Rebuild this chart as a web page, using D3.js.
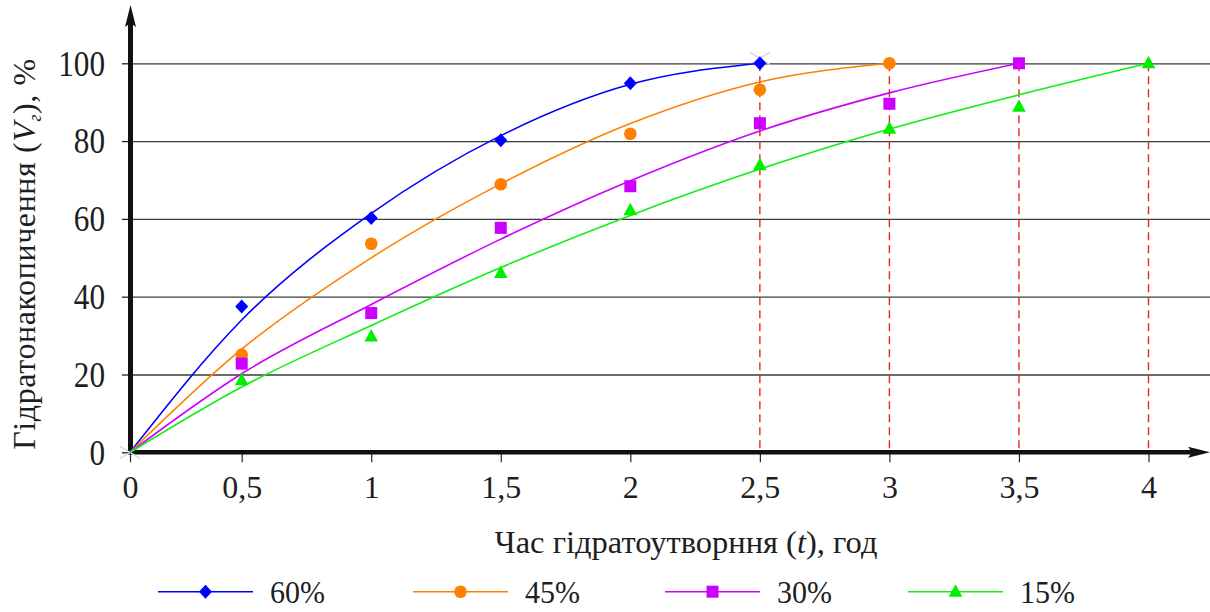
<!DOCTYPE html>
<html><head><meta charset="utf-8">
<script src="https://cdn.jsdelivr.net/npm/d3@7"></script>
<style>
html,body{margin:0;padding:0;background:#fff;}
svg{display:block;}
svg text{font-family:"Liberation Serif","Times New Roman",Times,serif !important;}
</style></head>
<body><svg id="c" width="1210" height="612"></svg>
<script>
// ---- data ----
const xTicks = [0, 0.5, 1, 1.5, 2, 2.5, 3, 3.5, 4];
const xTickLabels = ["0", "0,5", "1", "1,5", "2", "2,5", "3", "3,5", "4"];
const yTicks = [0, 20, 40, 60, 80, 100];
const yTickLabels = ["0", "20", "40", "60", "80", "100"];
const seriesNames = ["60%", "45%", "30%", "15%"];

const t60 = [0.5, 1, 1.5, 2, 2.5];
const v60 = [37.5, 60.2, 80.2, 94.9, 100];
const t45 = [0.5, 1, 1.5, 2, 2.5, 3];
const v45 = [25.1, 53.6, 68.9, 81.9, 93.2, 100];
const t30 = [0.5, 1, 1.5, 2, 2.5, 3, 3.5];
const v30 = [22.8, 35.8, 57.7, 68.4, 84.6, 89.6, 100];
const t15 = [0.5, 1, 1.5, 2, 2.5, 3, 3.5, 4];
const v15 = [18.5, 29.8, 46.1, 62.2, 73.8, 83.2, 88.8, 100];

// trend curves
const tr60t = [0, 0.5, 1, 1.5, 2, 2.5];
const tr60 = [0, 34, 61.4, 81.4, 94.6, 100];
const tr45t = [0, 0.5, 1, 1.5, 2, 2.5, 3];
const tr45 = [0, 26.5, 50, 69, 84.5, 95.2, 100];
const tr30t = [0, 0.5, 1, 1.5, 2, 2.5, 3, 3.5];
const tr30 = [0, 20.2, 38, 54.8, 69.8, 82.6, 92.4, 100];
const tr15t = [0, 0.5, 1, 1.5, 2, 2.5, 3, 3.5, 4];
const tr15 = [0, 16.8, 32.6, 47.5, 60.9, 72.8, 83.1, 91.9, 100];

const dropT = [2.5, 3, 3.5, 4];
const dropV = [100, 100, 100, 100];

const ghostT = [0, 2.5];
const ghostV = [0, 100];

// ---- drawing ----
const FONT = '"Liberation Serif","Times New Roman",Times,serif';
const svg = d3.select("#c");
const x = d3.scaleLinear().domain([0, 0.5, 4]).range([130, 241.7, 1148.5]);
const y = d3.scaleLinear().domain([0, 100]).range([452.3, 63.3]);
const txt = "#1e1e1e";

const colors = ["#0000ff", "#ff8000", "#cc00ff", "#00ee00"];
const lineColors = ["#0000ff", "#ff8000", "#cc00ff", "#11ee11"];
const shapes = ["diamond", "circle", "square", "triangle"];

function marker(g, shape, cx, cy, col) {
  if (shape === "diamond") {
    g.append("path").attr("d", `M${cx},${cy-7}L${cx+6.5},${cy}L${cx},${cy+7}L${cx-6.5},${cy}Z`).attr("fill", col);
  } else if (shape === "circle") {
    g.append("circle").attr("cx", cx).attr("cy", cy).attr("r", 6.3).attr("fill", col);
  } else if (shape === "square") {
    g.append("rect").attr("x", cx-6).attr("y", cy-6).attr("width", 12).attr("height", 12).attr("fill", col);
  } else {
    g.append("path").attr("d", `M${cx},${cy-7.5}L${cx+6.8},${cy+5}L${cx-6.8},${cy+5}Z`).attr("fill", col);
  }
}

// gridlines
const grid = svg.append("g").attr("transform", "translate(130,0)")
  .call(d3.axisLeft(y).tickValues(yTicks.slice(1)).tickSize(-1080).tickSizeOuter(0).tickFormat(""));
grid.select(".domain").remove();
grid.selectAll("line").attr("stroke", "#3a3a3a").attr("stroke-width", 1.3);

// y tick marks (left) and labels
const yAx = svg.append("g").attr("transform", "translate(130,0)")
  .call(d3.axisLeft(y).tickValues(yTicks).tickSize(8).tickSizeOuter(0).tickPadding(17)
    .tickFormat((d, i) => yTickLabels[i]));
yAx.attr("font-family", null).attr("font-size", null);
yAx.select(".domain").remove();
yAx.selectAll("line").attr("stroke", "#222").attr("stroke-width", 1.3);
yAx.selectAll("text").style("font-size", "35px").attr("fill", txt)
  .style("font-family", FONT).attr("dy", "0.335em")
  .attr("textLength", (d, i) => yTickLabels[i].length * 15.6)
  .attr("lengthAdjust", "spacingAndGlyphs");

// x tick marks and labels
const xAx = svg.append("g").attr("transform", "translate(0,452.3)")
  .call(d3.axisBottom(x).tickValues(xTicks).tickSize(10).tickSizeOuter(0).tickPadding(13)
    .tickFormat((d, i) => xTickLabels[i]));
xAx.attr("font-family", null).attr("font-size", null);
xAx.select(".domain").remove();
xAx.selectAll("line").attr("stroke", "#222").attr("stroke-width", 1.2);
xAx.selectAll("text").style("font-size", "32px").attr("fill", txt)
  .style("font-family", FONT).attr("dy", "0.72em");

// red dashed drop lines
svg.append("g").selectAll("line").data(dropT).join("line")
  .attr("x1", d => x(d)).attr("x2", d => x(d))
  .attr("y1", (d, i) => y(dropV[i])).attr("y2", y(0))
  .attr("stroke", "#e8261e").attr("stroke-width", 1.4).attr("stroke-dasharray", "8,5");

// main axes with arrows
svg.append("line").attr("x1", 130).attr("x2", 1196).attr("y1", 452.3).attr("y2", 452.3)
  .attr("stroke", "#111").attr("stroke-width", 4.5);
svg.append("path").attr("d", "M1210,452.3L1188,446.8L1192,452.3L1188,457.8Z").attr("fill", "#111");
svg.append("line").attr("x1", 130.5).attr("x2", 130.5).attr("y1", 454.5).attr("y2", 20)
  .attr("stroke", "#111").attr("stroke-width", 5);
svg.append("path").attr("d", "M130.5,5L125,27L130.5,23L136,27Z").attr("fill", "#111");

// faint ghost markers
svg.append("g").selectAll("path").data(ghostT).join("path")
  .attr("d", (d, i) => { const cx = x(d), cy = y(ghostV[i]) - (i ? 5 : 0);
    return `M${cx-10},${cy-6}L${cx+10},${cy+6}M${cx+10},${cy-6}L${cx-10},${cy+6}`; })
  .attr("stroke", "#d6d6ec").attr("stroke-width", 1.5).attr("fill", "none");

// trend lines
const trends = [[tr60t, tr60], [tr45t, tr45], [tr30t, tr30], [tr15t, tr15]];
const line = d3.line().x(d => x(d[0])).y(d => y(d[1])).curve(d3.curveMonotoneX);
trends.forEach((tr, k) => {
  svg.append("path").datum(tr[0].map((t, i) => [t, tr[1][i]]))
    .attr("d", line).attr("fill", "none").attr("stroke", lineColors[k]).attr("stroke-width", 1.6);
});

// data markers
const pts = [[t60, v60], [t45, v45], [t30, v30], [t15, v15]];
const mg = svg.append("g");
pts.forEach((p, k) => {
  p[0].forEach((t, i) => marker(mg, shapes[k], x(t), y(p[1][i]), colors[k]));
});

// axis titles
const xt = svg.append("text").attr("x", 686).attr("y", 553).attr("text-anchor", "middle")
  .style("font-size", "32.5px").style("font-family", FONT).attr("fill", txt);
xt.append("tspan").text("Час гідратоутворння (");
xt.append("tspan").attr("font-style", "italic").text("t");
xt.append("tspan").text("), год");

const yt = svg.append("text").attr("transform", "translate(35,254) rotate(-90)")
  .attr("text-anchor", "middle").style("font-size", "32px").style("font-family", FONT).attr("fill", txt)
  .attr("letter-spacing", 0.6);
yt.append("tspan").text("Гідратонакопичення (");
yt.append("tspan").attr("font-style", "italic").text("V");
yt.append("tspan").attr("font-style", "italic").style("font-size", "18px").attr("dy", 6).text("г");
yt.append("tspan").attr("dy", -6).text("), %");

// legend
const legX = [158, 413, 665, 908];
const lg = svg.append("g");
seriesNames.forEach((n, k) => {
  const lx = legX[k], ly = 591.7;
  lg.append("line").attr("x1", lx).attr("x2", lx + 95).attr("y1", ly).attr("y2", ly)
    .attr("stroke", lineColors[k]).attr("stroke-width", 1.6);
  marker(lg, shapes[k], lx + 47.5, ly, colors[k]);
  lg.append("text").attr("x", lx + 112).attr("y", 603.3).style("font-size", "32px")
    .style("font-family", FONT).attr("fill", txt)
    .attr("textLength", 55).attr("lengthAdjust", "spacingAndGlyphs").text(n);
});
</script></body></html>
